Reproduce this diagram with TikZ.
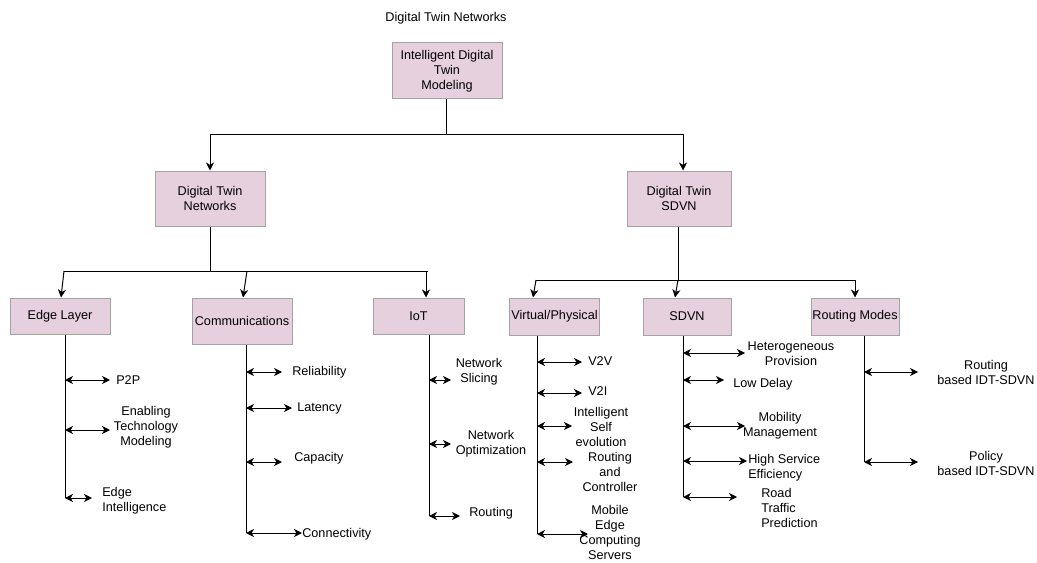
\documentclass[tikz,border=0pt]{standalone}
\usepackage{fontspec}
\setmainfont{Liberation Sans}
\usetikzlibrary{arrows.meta}
\definecolor{boxfill}{HTML}{E6D0DE}
\definecolor{boxline}{HTML}{A3A3A3}
\begin{document}
\begin{tikzpicture}[x=0.75pt,y=-0.75pt,
  every node/.style={font=\fontsize{9.5}{11.25}\selectfont, inner sep=0pt},
  box/.style={draw=boxline, fill=boxfill, line width=0.75pt, align=center},
  wire/.style={line width=0.75pt, black},
  arr/.style={wire, -{Stealth[length=6pt,width=6pt,inset=1.8pt]}},
  darr/.style={wire, {Stealth[length=6pt,width=6pt,inset=1.8pt]}-{Stealth[length=6pt,width=6pt,inset=1.8pt]}},
  lbl/.style={align=center},
  lbll/.style={align=left, anchor=west}]
\useasboundingbox (0,0) rectangle (1037,563);

% title
\node (title) at (446,18) {Digital Twin Networks};

% boxes
\node[box, minimum width=82.5pt, minimum height=42pt] (top) at (447,71) {Intelligent Digital\\Twin\\Modeling};
\node[box, minimum width=82.5pt, minimum height=41.25pt] (dtn) at (210,198.5) {Digital Twin\\Networks};
\node[box, minimum width=78pt, minimum height=41.25pt] (dts) at (679,198.5) {Digital Twin\\SDVN};
\node[box, minimum width=75pt, minimum height=27pt] (edge) at (60,316) {Edge Layer};
\node[box, minimum width=75pt, minimum height=34.5pt] (comm) at (242,321) {Communications};
\node[box, minimum width=68.25pt, minimum height=27pt] (iot) at (418.5,316) {IoT};
\node[box, minimum width=67pt, minimum height=27.75pt] (vp) at (554.5,316.5) {Virtual/Physical};
\node[box, minimum width=66pt, minimum height=27.75pt] (sdvn) at (687,316.5) {SDVN};
\node[box, minimum width=66pt, minimum height=27.75pt] (rm) at (855,316.5) {Routing Modes};

% top level connectors
\coordinate (j1) at (446,135);
\coordinate (j1l) at (210,135);
\coordinate (j1r) at (683,135);
\draw[wire] (top.south -| j1) -- (j1);
\draw[arr] (j1) -- (j1l) -- (j1l |- dtn.north);
\draw[arr] (j1) -- (j1r) -- (j1r |- dts.north);

% DTN branch
\coordinate (j2) at (210,271);
\coordinate (j2a) at (64,271);
\coordinate (j2b) at (247,271);
\coordinate (j2c) at (428,271);
\coordinate (j2d) at (426,271);
\coordinate (t2a) at (61,271);
\coordinate (t2b) at (243,271);
\draw[wire] (dtn.south) -- (j2);
\draw[wire] (j2a) -- (j2c);
\draw[arr] (j2a) -- (t2a |- edge.north);
\draw[arr] (j2b) -- (t2b |- comm.north);
\draw[arr] (j2d) -- (j2d |- iot.north);

% DTS branch
\coordinate (j3) at (678,280);
\coordinate (j3a) at (536,280);
\coordinate (j3c) at (855,280);
\coordinate (t3a) at (533,280);
\coordinate (t3b) at (675,280);
\draw[wire] (dts.south -| j3) -- (j3);
\draw[wire] (j3a) -- (j3c);
\draw[arr] (j3a) -- (t3a |- vp.north);
\draw[arr] (j3) -- (t3b |- sdvn.north);
\draw[arr] (j3c) -- (j3c |- rm.north);

% ---------- Edge Layer ----------
\coordinate (se) at (65,498);
\draw[wire] (se |- edge.south) -- (se);
\coordinate (e1) at (65,380); \coordinate (e1e) at (110,380);
\coordinate (e2) at (65,430); \coordinate (e2e) at (110,430);
\coordinate (e3e) at (92,498);
\draw[darr] (e1) -- (e1e);
\draw[darr] (e2) -- (e2e);
\draw[darr] (se) -- (e3e);
\node[lbll] (l-p2p) at (116,380) {P2P};
\node[lbl] (l-etm) at (146,427) {Enabling\\Technology\\Modeling};
\node[lbll] (l-ei) at (102,501) {Edge\\Intelligence};

% ---------- Communications ----------
\coordinate (sc) at (246,533);
\draw[wire] (sc |- comm.south) -- (sc);
\coordinate (c1) at (246,372); \coordinate (c1e) at (282,372);
\coordinate (c2) at (246,408); \coordinate (c2e) at (292,408);
\coordinate (c3) at (246,462); \coordinate (c3e) at (282,462);
\coordinate (c4e) at (302,533);
\draw[darr] (c1) -- (c1e);
\draw[darr] (c2) -- (c2e);
\draw[darr] (c3) -- (c3e);
\draw[darr] (sc) -- (c4e);
\node[lbll] (l-rel) at (292,372) {Reliability};
\node[lbll] (l-lat) at (297,408) {Latency};
\node[lbll] (l-cap) at (294,458) {Capacity};
\node[lbll] (l-con) at (302,534) {Connectivity};

% ---------- IoT ----------
\coordinate (si) at (429,516);
\draw[wire] (si |- iot.south) -- (si);
\coordinate (i1) at (429,380); \coordinate (i1e) at (451,380);
\coordinate (i2) at (429,444); \coordinate (i2e) at (451,444);
\coordinate (i3e) at (460,516);
\draw[darr] (i1) -- (i1e);
\draw[darr] (i2) -- (i2e);
\draw[darr] (si) -- (i3e);
\node[lbl] (l-ns) at (479,372) {Network\\Slicing};
\node[lbl] (l-no) at (491,444) {Network\\Optimization};
\node[lbll] (l-rt) at (469,513) {Routing};

% ---------- Virtual/Physical ----------
\coordinate (sv) at (537,534);
\draw[wire] (sv |- vp.south) -- (sv);
\coordinate (v1) at (537,362); \coordinate (v1e) at (582,362);
\coordinate (v2) at (537,393); \coordinate (v2e) at (582,393);
\coordinate (v3) at (537,426); \coordinate (v3e) at (572,426);
\coordinate (v4) at (537,462); \coordinate (v4e) at (573,462);
\coordinate (v5e) at (588,534);
\draw[darr] (v1) -- (v1e);
\draw[darr] (v2) -- (v2e);
\draw[darr] (v3) -- (v3e);
\draw[darr] (v4) -- (v4e);
\draw[darr] (sv) -- (v5e);
\node[lbll] (l-v2v) at (588,361) {V2V};
\node[lbll] (l-v2i) at (588,391) {V2I};
\node[lbl] (l-ise) at (601,427) {Intelligent\\Self\\evolution};
\node[lbl] (l-rac) at (610,472) {Routing\\and\\Controller};
\node[lbl] (l-mec) at (610,532.5) {Mobile\\Edge\\Computing\\Servers};

% ---------- SDVN ----------
\coordinate (ss) at (683,497);
\draw[wire] (ss |- sdvn.south) -- (ss);
\coordinate (s1) at (683,353); \coordinate (s1e) at (745,353);
\coordinate (s2) at (683,380); \coordinate (s2e) at (724,380);
\coordinate (s3) at (683,426); \coordinate (s3e) at (745,426);
\coordinate (s4) at (683,461); \coordinate (s4e) at (747,461);
\coordinate (s5e) at (737,497);
\draw[darr] (s1) -- (s1e);
\draw[darr] (s2) -- (s2e);
\draw[darr] (s3) -- (s3e);
\draw[darr] (s4) -- (s4e);
\draw[darr] (ss) -- (s5e);
\node[lbl] (l-hp) at (791,354) {Heterogeneous\\Provision};
\node[lbll] (l-ld) at (733,384) {Low Delay};
\node[lbl] (l-mm) at (780,426) {Mobility\\Management};
\node[lbll] (l-hse) at (748,468) {High Service\\Efficiency};
\node[lbll] (l-rtp) at (761,508) {Road\\Traffic\\Prediction};

% ---------- Routing Modes ----------
\coordinate (sr) at (864,462);
\draw[wire] (sr |- rm.south) -- (sr);
\coordinate (r1) at (864,372); \coordinate (r1e) at (918,372);
\coordinate (r2e) at (918,462);
\draw[darr] (r1) -- (r1e);
\draw[darr] (sr) -- (r2e);
\node[lbl] (l-rb) at (986,372) {Routing\\based IDT-SDVN};
\node[lbl] (l-pb) at (986,463) {Policy\\based IDT-SDVN};
\end{tikzpicture}
\end{document}
